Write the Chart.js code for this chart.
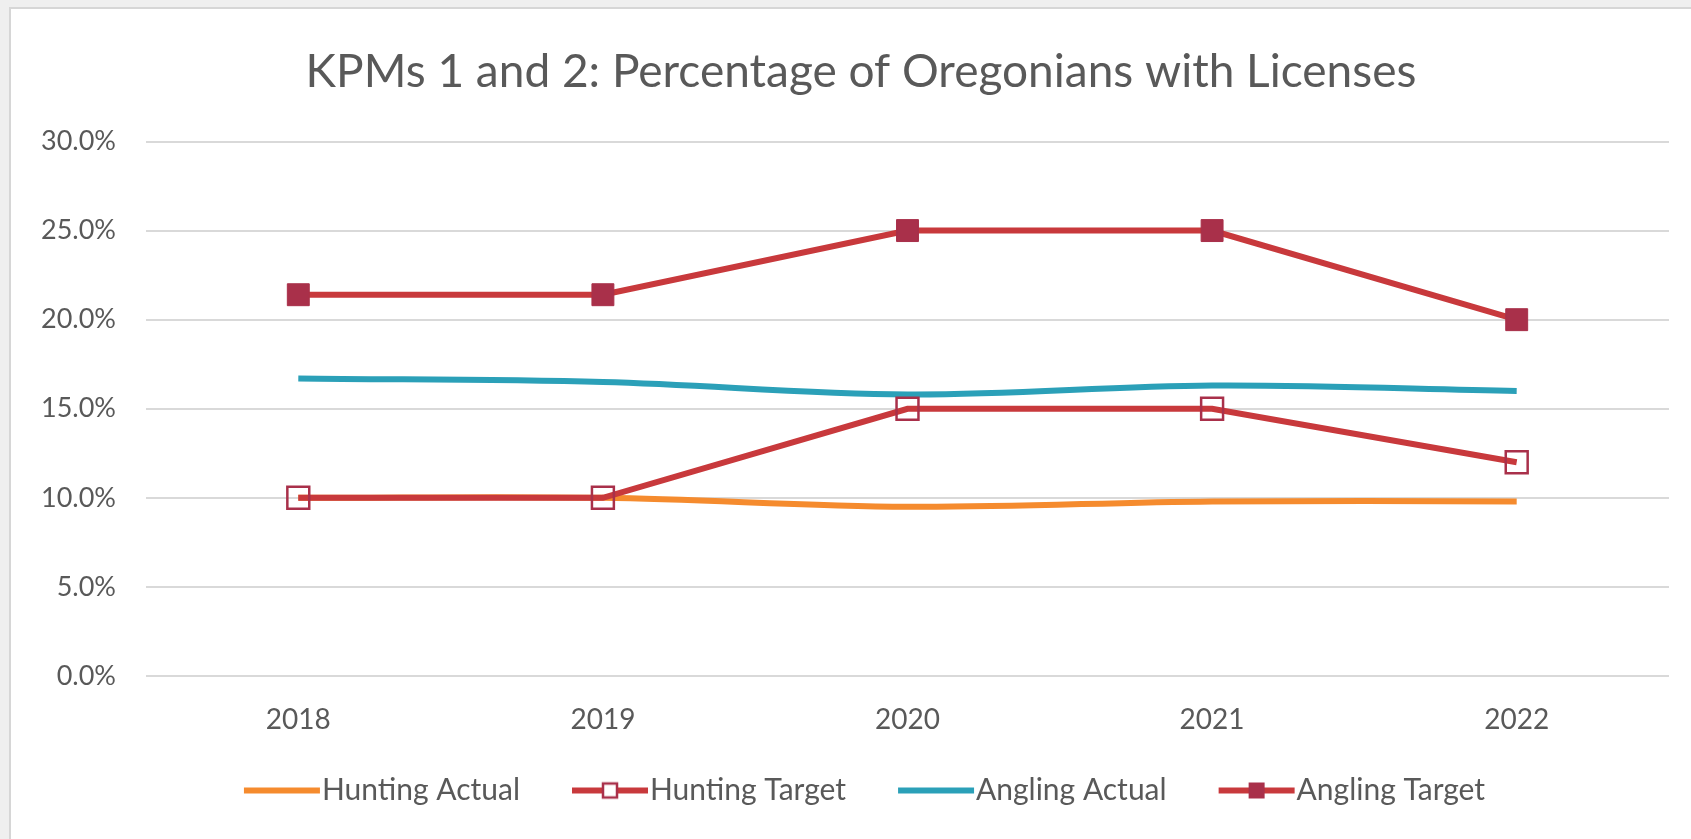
<!DOCTYPE html>
<html>
<head>
<meta charset="utf-8">
<script src="https://cdn.jsdelivr.net/npm/chart.js@4.4.0/dist/chart.umd.min.js"></script>
<style>
  body { margin: 0; background: #efefef; }
  #frame {
    position: absolute; left: 9px; top: 7px;
    width: 1682px; height: 832px;
    background: #fff;
    border-left: 2px solid #d6d6d6;
    border-top: 2px solid #d6d6d6;
    box-sizing: border-box;
  }
</style>
</head>
<body>
<div id="frame"><canvas id="chart" width="1680" height="830"></canvas></div>
<script>
const years = ['2018', '2019', '2020', '2021', '2022'];
const huntingActual = [10.0, 10.0, 9.5, 9.8, 9.8];
const huntingTarget = [10.0, 10.0, 15.0, 15.0, 12.0];
const anglingActual = [16.7, 16.5, 15.8, 16.3, 16.0];
const anglingTarget = [21.4, 21.4, 25.0, 25.0, 20.0];

const ORANGE = '#F58B2E';
const TEAL = '#2BA0B8';
const RED = '#C8393C';
const MARKER = '#A9304A';
const GREY_TEXT = '#595959';

// legend sample: line with an optional square marker
function makeSample(color, marker) {
    const c = document.createElement('canvas');
    c.width = 98;
    c.height = 30;
    const ctx = c.getContext('2d');
    ctx.strokeStyle = color;
    ctx.lineWidth = 6;
    ctx.beginPath();
    ctx.moveTo(21, 15);
    ctx.lineTo(97, 15);
    ctx.stroke();
    if (marker === 'open') {
        ctx.fillStyle = '#fff';
        ctx.fillRect(52, 8, 14, 14);
        ctx.strokeStyle = MARKER;
        ctx.lineWidth = 2.5;
        ctx.strokeRect(52, 8, 14, 14);
    } else if (marker === 'filled') {
        ctx.fillStyle = MARKER;
        ctx.fillRect(51, 7, 16, 16);
    }
    return c;
}

const legendSamples = [
    makeSample(ORANGE),
    makeSample(RED, 'open'),
    makeSample(TEAL),
    makeSample(RED, 'filled'),
];

const ctx = document.querySelector('#chart').getContext('2d');
new Chart(ctx, {
    type: 'line',
    data: {
        labels: years,
        datasets: [
            {
                label: 'Hunting Actual',
                data: huntingActual,
                borderColor: ORANGE,
                borderWidth: 6,
                pointRadius: 0,
                tension: 0.35,
                order: 4,
            },
            {
                label: 'Hunting Target',
                data: huntingTarget,
                borderColor: RED,
                borderWidth: 6,
                pointStyle: 'rect',
                pointRadius: 15.5,
                pointBorderWidth: 2.5,
                pointBorderColor: MARKER,
                pointBackgroundColor: 'rgba(0,0,0,0)',
                tension: 0,
                order: 2,
            },
            {
                label: 'Angling Actual',
                data: anglingActual,
                borderColor: TEAL,
                borderWidth: 6,
                pointRadius: 0,
                tension: 0.35,
                order: 3,
            },
            {
                label: 'Angling Target',
                data: anglingTarget,
                borderColor: RED,
                borderWidth: 6,
                pointStyle: 'rect',
                pointRadius: 15.5,
                pointBorderWidth: 1,
                pointBorderColor: MARKER,
                pointBackgroundColor: MARKER,
                tension: 0,
                order: 1,
            },
        ],
    },
    options: {
        responsive: false,
        animation: false,
        layout: {
            // negative right padding + empty right axis keeps title/legend centred like the original
            padding: { left: 0, right: -20, top: 0, bottom: 23.5 },
        },
        plugins: {
            title: {
                display: true,
                text: 'KPMs 1 and 2: Percentage of Oregonians with Licenses',
                color: GREY_TEXT,
                font: { family: 'Lato', size: 46, weight: 'normal', lineHeight: 1.2 },
                padding: { top: 36, bottom: 41.3 },
            },
            legend: {
                position: 'bottom',
                labels: {
                    usePointStyle: true,
                    pointStyleWidth: 70,
                    boxHeight: 30,
                    padding: 45,
                    color: GREY_TEXT,
                    font: { family: 'Lato', size: 30 },
                    sort: (a, b) => a.datasetIndex - b.datasetIndex,
                    generateLabels: (chart) => {
                        const items = Chart.defaults.plugins.legend.labels.generateLabels(chart);
                        items.forEach(item => {
                            item.pointStyle = legendSamples[item.datasetIndex];
                            item.rotation = 0;
                        });
                        return items;
                    },
                },
            },
            tooltip: { enabled: false },
        },
        scales: {
            x: {
                offset: true,
                grid: { display: false, drawTicks: false },
                border: { display: false },
                ticks: {
                    color: GREY_TEXT,
                    padding: 27,
                    font: { family: 'Lato', size: 28 },
                },
                afterFit: (scale) => { scale.height = 54.5; },
            },
            y: {
                min: 0,
                max: 30,
                grid: { color: '#d9d9d9', lineWidth: 2, drawTicks: false },
                border: { display: false },
                ticks: {
                    stepSize: 5,
                    color: GREY_TEXT,
                    padding: 30,
                    font: { family: 'Lato', size: 27 },
                    callback: (v) => v.toFixed(1) + '%',
                },
                afterFit: (scale) => { scale.width = 135; },
            },
            yRight: {
                position: 'right',
                min: 0,
                max: 30,
                grid: { display: false, drawTicks: false },
                border: { display: false },
                ticks: { display: false },
                afterFit: (scale) => { scale.width = 42; },
            },
        },
    },
});
</script>
</body>
</html>
